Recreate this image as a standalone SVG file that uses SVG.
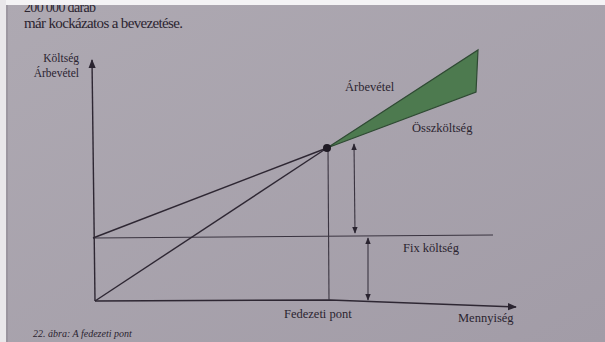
<svg xmlns="http://www.w3.org/2000/svg" width="605" height="342" viewBox="0 0 605 342">
  <defs>
    <linearGradient id="bg" x1="0" y1="0" x2="1" y2="1">
      <stop offset="0" stop-color="#aea9b2"/>
      <stop offset="1" stop-color="#a29ca7"/>
    </linearGradient>
    <marker id="ah" viewBox="0 0 10 10" refX="9" refY="5" markerWidth="7" markerHeight="7" orient="auto-start-reverse" markerUnits="userSpaceOnUse">
      <path d="M0 1 L10 5 L0 9 Z" fill="#2a2430"/>
    </marker>
    <marker id="big" viewBox="0 0 10 10" refX="9" refY="5" markerWidth="9" markerHeight="9" orient="auto" markerUnits="userSpaceOnUse">
      <path d="M0 1 L10 5 L0 9 Z" fill="#2a2430"/>
    </marker>
  </defs>
  <style>
    .t { fill: #2b2430; }
    .ln { stroke: #2e2733; stroke-width: 1.4; fill: none; }
    .thin { stroke: #3a3440; stroke-width: 1.1; fill: none; }
    .lbl { font-size: 12.5px; }
  </style>
  <rect x="0" y="0" width="605" height="342" fill="url(#bg)"/>
  <g id="page-text" font-family="'Liberation Serif', 'DejaVu Serif', serif" class="t">
    <text x="24" y="12" font-size="14" textLength="72" class="t">200 000 darab</text>
    <text x="24" y="28" font-size="15" textLength="159" class="t">már kockázatos a bevezetése.</text>
  </g>
  <rect x="0" y="0" width="605" height="5" fill="#f4f3f5"/>
  <rect x="0" y="0" width="6" height="342" fill="#e9e7ea"/>
  <line x1="7" y1="5" x2="7" y2="342" stroke="#8c8690" stroke-width="1"/>

  <g id="area">
    <polygon points="327,148 478,50 476,92" fill="#4d7a4f" stroke="#2f4a33" stroke-width="1.2"/>
  </g>

  <g id="connectors">
    <path class="ln" d="M95 301 L92 60" marker-end="url(#big)"/>
    <path class="ln" d="M95 301 L330 300 L516 307" marker-end="url(#big)"/>
    <line class="thin" x1="93" y1="238" x2="493" y2="235"/>
    <line class="ln" x1="95" y1="301" x2="327" y2="148"/>
    <line class="ln" x1="93" y1="238" x2="327" y2="148"/>
    <line class="thin" x1="328" y1="148" x2="329" y2="300"/>
    <line class="thin" x1="354" y1="144" x2="355" y2="233" marker-start="url(#ah)" marker-end="url(#ah)"/>
    <line class="thin" x1="368" y1="238" x2="368" y2="300" marker-start="url(#ah)" marker-end="url(#ah)"/>
  </g>

  <g id="breakeven">
    <circle cx="327" cy="148" r="4" fill="#1f1a24"/>
  </g>

  <g id="labels" font-family="'Liberation Serif', 'DejaVu Serif', serif">
    <text x="79" y="62" font-size="11.5" text-anchor="end" class="t">Költség</text>
    <text x="79" y="77" font-size="11.5" text-anchor="end" class="t">Árbevétel</text>
    <text x="345" y="91" class="lbl t">Árbevétel</text>
    <text x="412" y="132" class="lbl t">Összköltség</text>
    <text x="403" y="252" class="lbl t">Fix költség</text>
    <text x="284" y="318" class="lbl t">Fedezeti pont</text>
    <text x="458" y="322" class="lbl t">Mennyiség</text>
    <text x="33" y="337" font-size="10" font-style="italic" class="t">22. ábra: A fedezeti pont</text>
  </g>
</svg>
